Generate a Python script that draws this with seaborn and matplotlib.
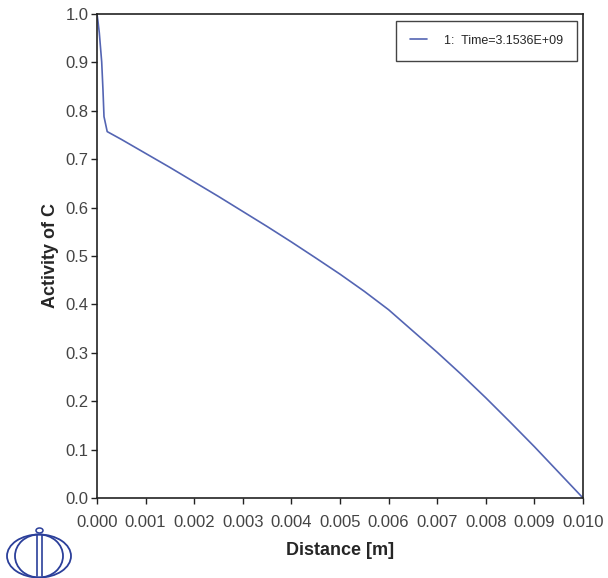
import numpy as np
import pandas as pd
import matplotlib
matplotlib.use("Agg")
import matplotlib.pyplot as plt
from matplotlib.patches import Ellipse
import seaborn as sns

# values
distance = [0.0, 0.00002, 0.0000475, 0.0000966, 0.000123, 0.000144, 0.00021, 0.0005,
            0.0010, 0.0015, 0.0020, 0.0025, 0.0030, 0.0035, 0.0040, 0.0045,
            0.0050, 0.0055, 0.0060, 0.0065, 0.0070, 0.0075, 0.0080, 0.0085,
            0.0090, 0.0095, 0.0100]
activity = [1.0, 0.985, 0.961, 0.901, 0.843, 0.788, 0.757, 0.741,
            0.712, 0.683, 0.653, 0.623, 0.592, 0.561, 0.529, 0.496,
            0.4625, 0.427, 0.389, 0.345, 0.301, 0.255, 0.207, 0.157,
            0.106, 0.053, 0.0]
series_label = "1:  Time=3.1536E+09"
xticks = [0.000, 0.001, 0.002, 0.003, 0.004, 0.005, 0.006, 0.007, 0.008, 0.009, 0.010]
yticks = [0.0, 0.1, 0.2, 0.3, 0.4, 0.5, 0.6, 0.7, 0.8, 0.9, 1.0]

df = pd.DataFrame({"Distance": distance, "Activity": activity, "series": series_label})

sns.set_theme(style="ticks")
plt.rcParams['font.family'] = ['Liberation Sans', 'DejaVu Sans']

line_color = '#5465b3'
fig = plt.figure(figsize=(6.08, 5.78), dpi=100)
ax = fig.add_axes([97/608, 80/578, 486/608, 484/578])

sns.lineplot(data=df, x="Distance", y="Activity", hue="series",
             palette=[line_color], linewidth=1.2, ax=ax, sort=False)

ax.set_xlim(0, 0.010)
ax.set_ylim(0, 1.0)
ax.set_xticks(xticks)
ax.set_xticklabels([f"{v:.3f}" for v in xticks])
ax.set_yticks(yticks)
ax.set_yticklabels([f"{v:.1f}" for v in yticks])
ax.tick_params(direction='out', length=4, width=1, colors='#222222',
               labelcolor='#444444', labelsize=12)
ax.tick_params(axis='x', pad=8)
ax.tick_params(axis='y', pad=2)
for s in ax.spines.values():
    s.set_visible(True)
    s.set_color('#222222')
    s.set_linewidth(1.2)

ax.set_xlabel("Distance [m]", fontsize=13, fontweight='bold', labelpad=9)
ax.set_ylabel("Activity of C", fontsize=13, fontweight='bold', labelpad=5)

leg = ax.legend(loc='upper right', bbox_to_anchor=(0.9877, 0.9855), borderaxespad=0,
                fontsize=9, frameon=True, fancybox=False, edgecolor='#444444',
                framealpha=1, handlelength=1.4, borderpad=1.1, handletextpad=1.35)
leg.get_frame().set_linewidth(1.0)

# logo at bottom left
lax = fig.add_axes([0, 0, 80/608, 58/578])
lax.set_xlim(0, 80)
lax.set_ylim(58, 0)
lax.axis('off')
logo = '#2b3f9a'
lax.add_patch(Ellipse((39, 36), 64, 43, fill=False, ec=logo, lw=1.3))
lax.add_patch(Ellipse((39, 36), 48, 43, fill=False, ec=logo, lw=1.3))
lax.add_patch(Ellipse((39.5, 10.5), 7, 5, fill=False, ec=logo, lw=1.1))
lax.plot([37.3, 37.3], [15, 56], color=logo, lw=1.2)
lax.plot([42, 42], [15, 56], color=logo, lw=1.2)

fig.savefig("out.png", dpi=100)
